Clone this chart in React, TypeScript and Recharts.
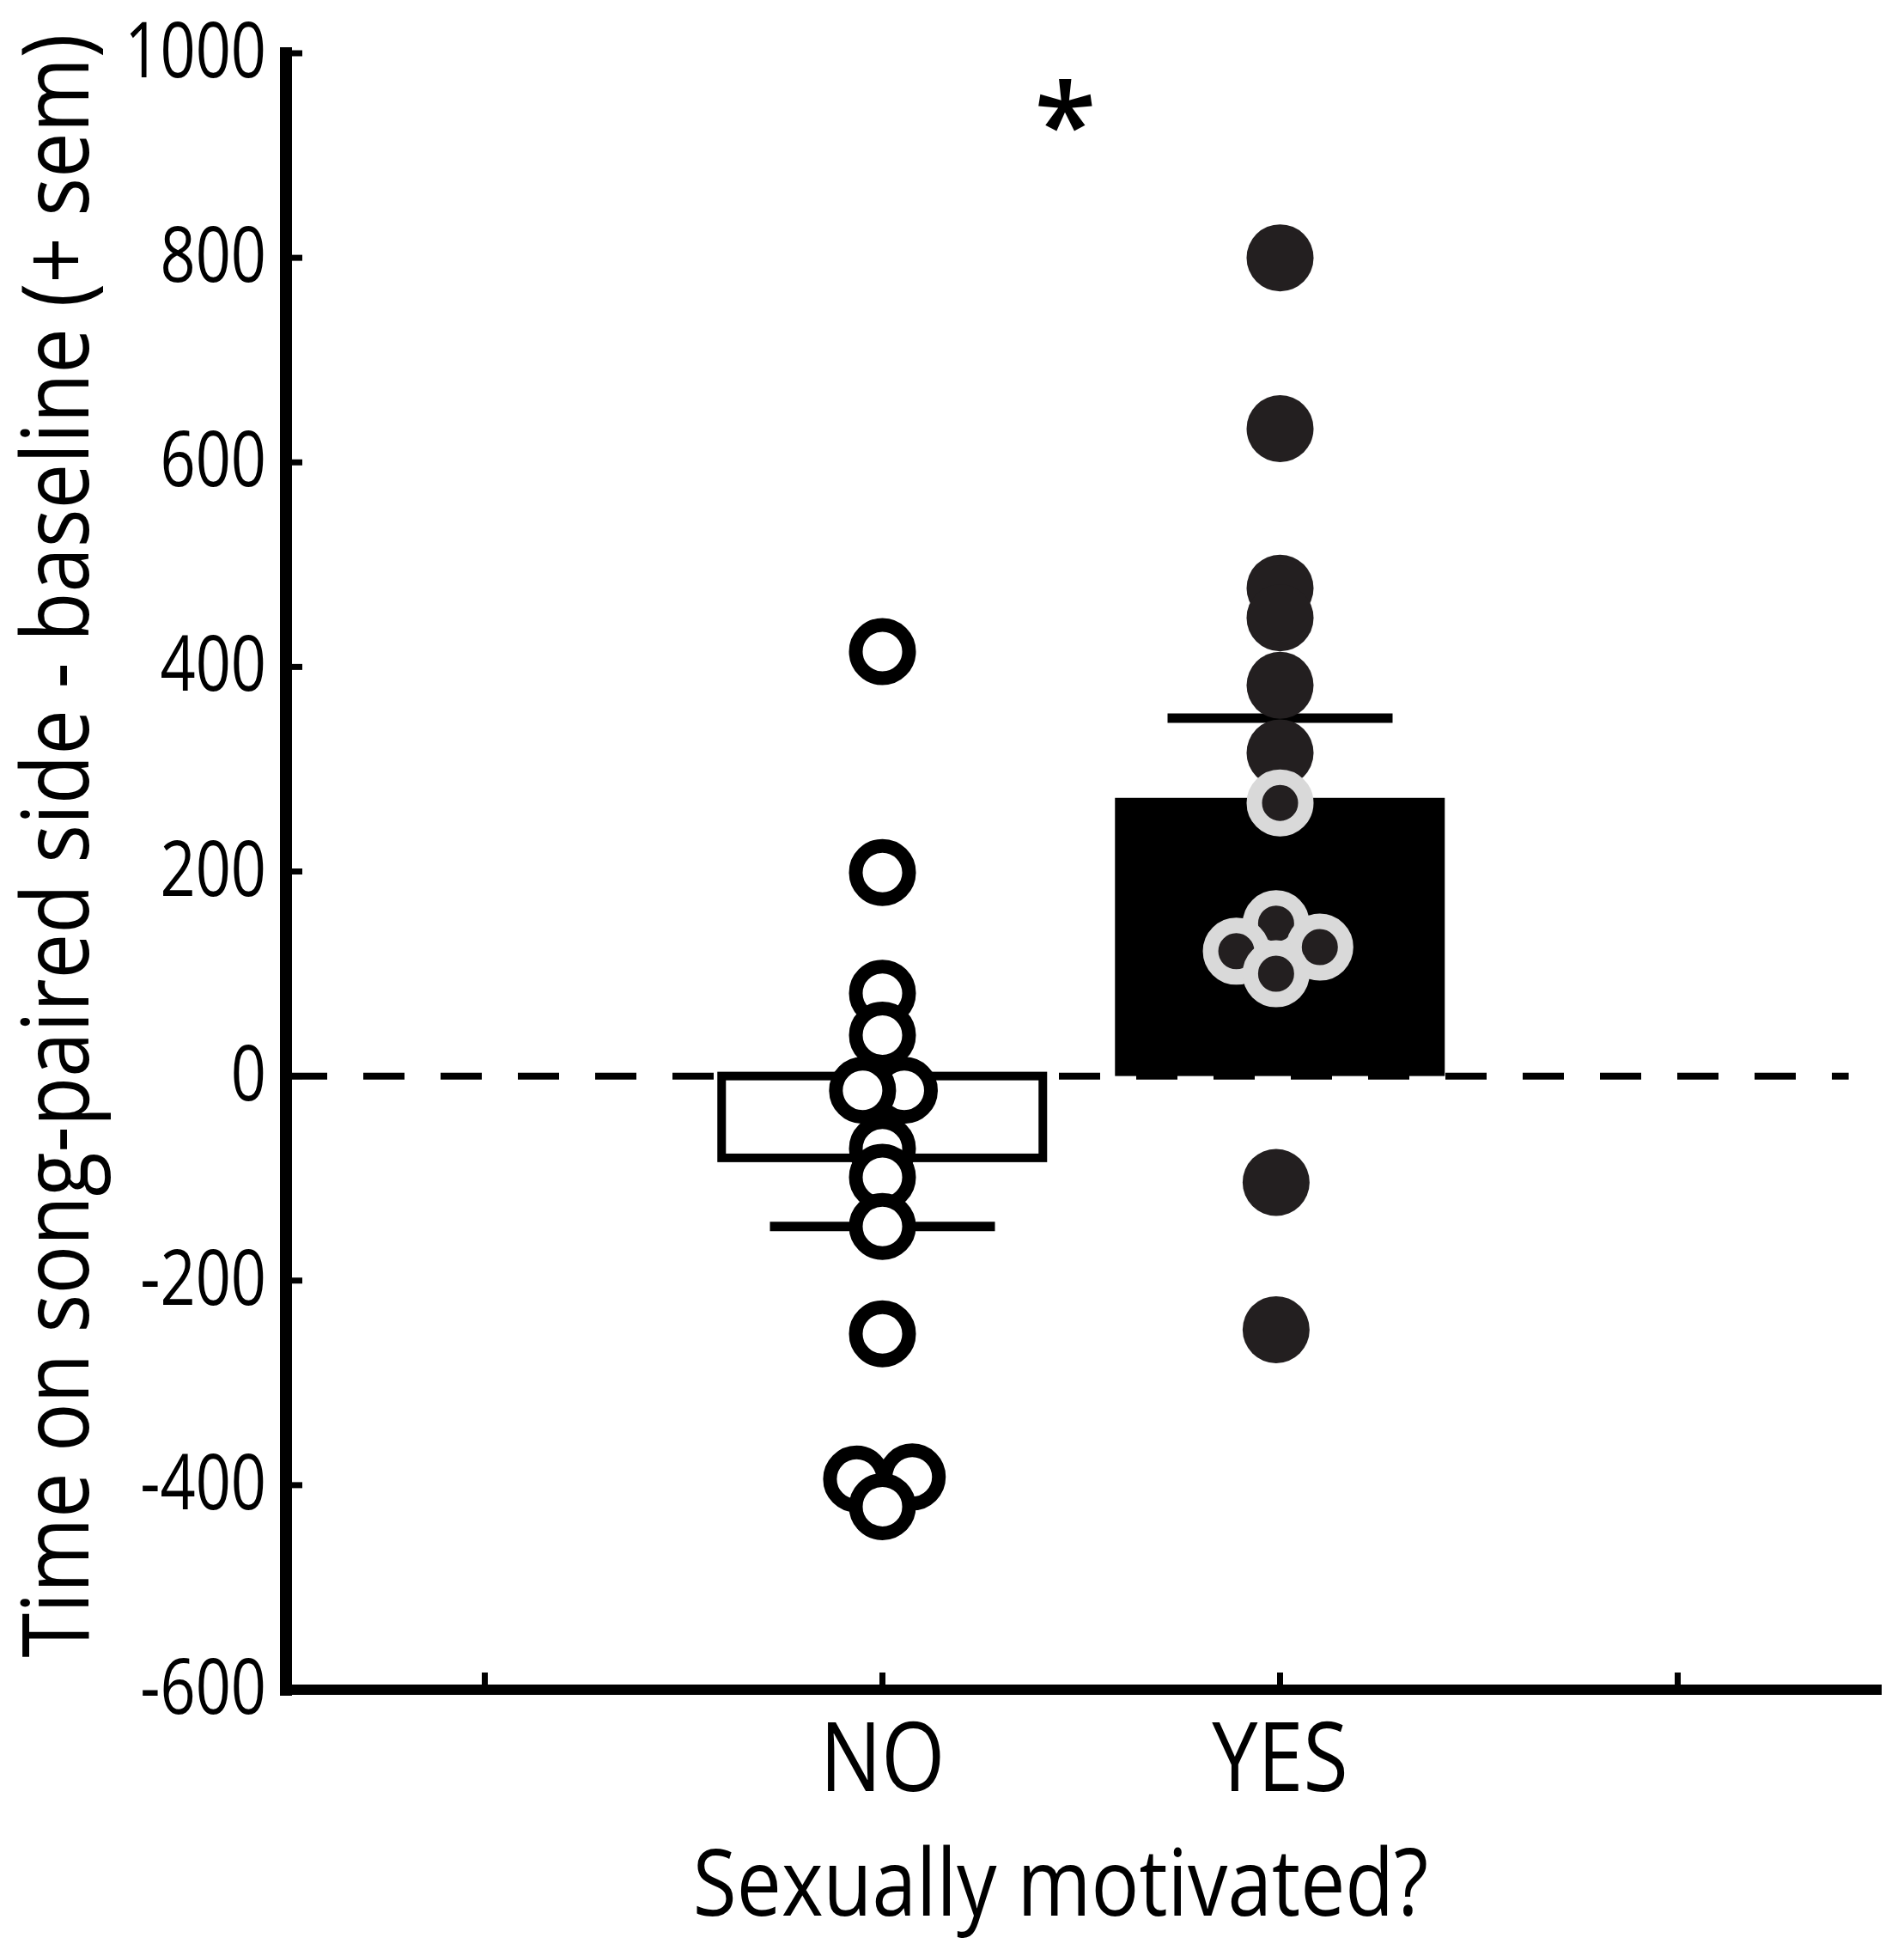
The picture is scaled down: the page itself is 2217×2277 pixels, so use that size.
import React from "react"
import {
  ComposedChart,
  Bar,
  Scatter,
  XAxis,
  YAxis,
  ReferenceLine,
  ReferenceDot,
} from "recharts"

const groupX = [2, 3]
const groupNames = ["NO", "YES"]
const groupMeans = [-80, 272]
const groupSem = [67, 78]

const xTicks = [1, 2, 3, 4]
const xTickLabels = ["", "NO", "YES", ""]
const yTicks = [-600, -400, -200, 0, 200, 400, 600, 800, 1000]

// single birds, jitter = the small sideways shift seen in the figure
const noValues = [415, 199, 81, 40, -14, -14, -71, -99, -147, -252, -392, -394, -421]
const noJitter = [0, 0, 0, 0, 0.055, -0.05, 0, 0, 0, 0, 0.075, -0.065, 0]

const yesSolidValues = [800, 633, 477, 448, 382, 316, -104, -248]
const yesSolidJitter = [0, 0, 0, 0, 0, 0, -0.01, -0.01]

const yesRingValues = [267, 149, 122, 126, 100]
const yesRingJitter = [0, -0.01, -0.11, 0.1, -0.01]

const zeroLineEnd = 4.43
const significance = { x: 2.46, y: 942, text: "*" }

const barData = groupNames.map((name, i) => ({
  name,
  x: groupX[i],
  mean: groupMeans[i],
  filled: i === 1,
}))

const semData = groupNames.map((name, i) => ({
  name,
  x: groupX[i],
  y: groupMeans[i] + Math.sign(groupMeans[i]) * groupSem[i],
}))

const noPoints = noValues.map((y, i) => ({ x: groupX[0] + noJitter[i], y }))
const yesSolidPoints = yesSolidValues.map((y, i) => ({ x: groupX[1] + yesSolidJitter[i], y }))
const yesRingPoints = yesRingValues.map((y, i) => ({ x: groupX[1] + yesRingJitter[i], y }))

const FONT = "'Open Sans', 'DejaVu Sans', sans-serif"
const Y_TICK_MARGIN = 23
const BAR_HALF = 192

const YTick = (props: any) => {
  const { x, y, payload } = props
  const axisX = x + Y_TICK_MARGIN
  return (
    <g>
      <line x1={axisX} x2={axisX + 19} y1={y} y2={y} stroke="#000" strokeWidth={7} />
      <text
        transform={`translate(${x},${y + 28}) scale(0.8,1)`}
        textAnchor="end"
        fontFamily={FONT}
        fontSize={90}
        fill="#000"
      >
        {payload.value}
      </text>
    </g>
  )
}

const XTick = (props: any) => {
  const { x, y, payload } = props
  const label = xTickLabels[xTicks.indexOf(payload.value)]
  return (
    <g>
      <line x1={x} x2={x} y1={y} y2={y - 20} stroke="#000" strokeWidth={7} />
      <text
        transform={`translate(${x},${y + 118}) scale(0.85,1)`}
        textAnchor="middle"
        fontFamily={FONT}
        fontSize={112}
        fill="#000"
      >
        {label}
      </text>
    </g>
  )
}

// the scatter jitter shrinks recharts' band on a number axis, so the bar keeps its own width
const BarShape = (props: any) => {
  const { x, y, width, height, payload } = props
  const cx = x + width / 2
  const top = Math.min(y, y + height)
  const h = Math.abs(height)
  if (payload.filled) {
    return <rect x={cx - BAR_HALF} y={top} width={BAR_HALF * 2} height={h} fill="#000" />
  }
  return (
    <rect
      x={cx - BAR_HALF + 5}
      y={top}
      width={BAR_HALF * 2 - 10}
      height={h}
      fill="#fff"
      stroke="#000"
      strokeWidth={10}
    />
  )
}

const SemCap = (p: any) => (
  <line x1={p.cx - 131} x2={p.cx + 131} y1={p.cy} y2={p.cy} stroke="#000" strokeWidth={11} />
)
const OpenCircle = (p: any) => (
  <circle cx={p.cx} cy={p.cy} r={31} fill="#fff" stroke="#000" strokeWidth={16} />
)
const SolidCircle = (p: any) => <circle cx={p.cx} cy={p.cy} r={39} fill="#231f20" />
const RingCircle = (p: any) => (
  <circle cx={p.cx} cy={p.cy} r={30} fill="#231f20" stroke="#d9d9d9" strokeWidth={18} />
)

export default function App() {
  return (
    <div style={{ width: 2217, height: 2277, background: "#fff" }}>
      <style>{"body{margin:0}"}</style>
      <ComposedChart
        width={2217}
        height={2277}
        data={barData}
        margin={{ top: 62, right: 32, bottom: 0, left: 0 }}
      >
        <XAxis
          dataKey="x"
          type="number"
          domain={[0.5, 4.5]}
          ticks={xTicks}
          height={310}
          tickSize={0}
          tickMargin={0}
          tickLine={false}
          tick={<XTick />}
          axisLine={{ stroke: "#000", strokeWidth: 12, strokeLinecap: "square" }}
          label={{
            content: (p: any) => {
              const vb = p.viewBox
              return (
                <text
                  transform={`translate(${vb.x + vb.width / 2 - 24},${vb.y + 263}) scale(0.86,1)`}
                  textAnchor="middle"
                  fontFamily={FONT}
                  fontSize={108}
                  fill="#000"
                >
                  Sexually motivated?
                </text>
              )
            },
          }}
        />
        <YAxis
          type="number"
          domain={[-600, 1000]}
          ticks={yTicks}
          width={333}
          tickSize={0}
          tickMargin={Y_TICK_MARGIN}
          tickLine={false}
          tick={<YTick />}
          axisLine={{ stroke: "#000", strokeWidth: 14, strokeLinecap: "square" }}
          label={{
            content: (p: any) => {
              const vb = p.viewBox
              return (
                <text
                  transform={`translate(103,${vb.y + vb.height / 2 - 30}) rotate(-90) scale(0.87,1)`}
                  textAnchor="middle"
                  fontFamily={FONT}
                  fontSize={108}
                  fill="#000"
                >
                  Time on song-paired side - baseline (+ sem)
                </text>
              )
            },
          }}
        />
        <ReferenceLine
          segment={[
            { x: 0.5, y: 0 },
            { x: zeroLineEnd, y: 0 },
          ]}
          stroke="#000"
          strokeWidth={8}
          strokeDasharray="48 42"
        />
        <Bar dataKey="mean" barSize={384} shape={<BarShape />} isAnimationActive={false} />
        <Scatter data={semData} dataKey="y" shape={<SemCap />} isAnimationActive={false} />
        <Scatter data={noPoints} dataKey="y" shape={<OpenCircle />} isAnimationActive={false} />
        <Scatter data={yesSolidPoints} dataKey="y" shape={<SolidCircle />} isAnimationActive={false} />
        <Scatter data={yesRingPoints} dataKey="y" shape={<RingCircle />} isAnimationActive={false} />
        <ReferenceDot
          x={significance.x}
          y={significance.y}
          r={0}
          fill="none"
          stroke="none"
          label={{
            content: (p: any) => {
              const vb = p.viewBox
              return (
                <text
                  x={vb.x + vb.width / 2}
                  y={vb.y + vb.height / 2 + 62}
                  textAnchor="middle"
                  fontFamily={FONT}
                  fontWeight={600}
                  fontSize={132}
                  fill="#000"
                >
                  {significance.text}
                </text>
              )
            },
          }}
        />
      </ComposedChart>
    </div>
  )
}
